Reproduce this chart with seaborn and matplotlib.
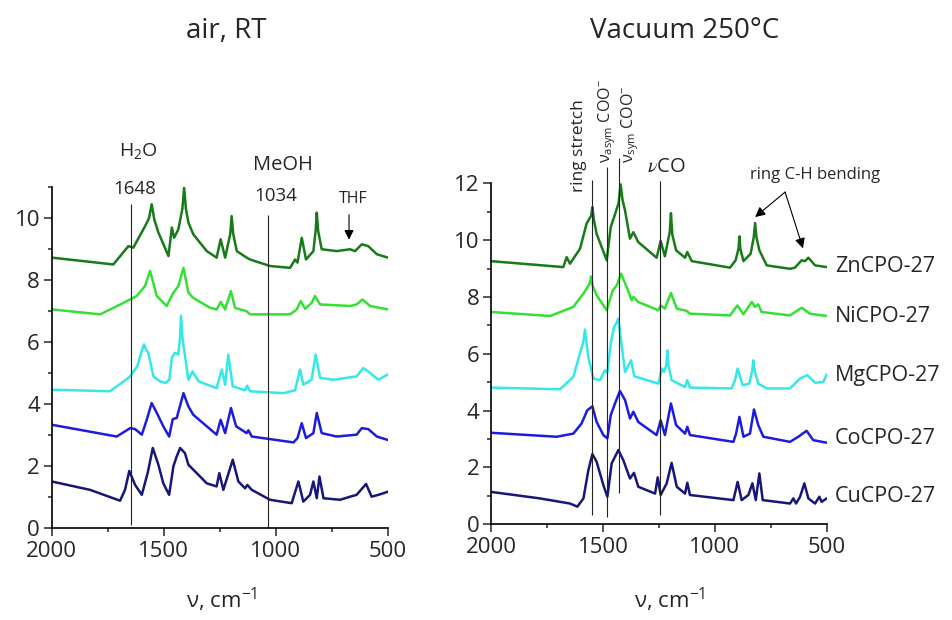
import matplotlib
matplotlib.use("Agg")
import matplotlib.pyplot as plt
from matplotlib.ticker import MultipleLocator, FixedLocator
import pandas as pd
import seaborn as sns

samples = ["ZnCPO-27", "NiCPO-27", "MgCPO-27", "CoCPO-27", "CuCPO-27"]
colors = ["#187a18", "#35e035", "#35e8e8", "#1c1ce0", "#16167c"]

# ---- IR spectra in air at room temperature (wavenumber cm-1, absorbance + offset)
air_zn_wn = [2000, 1725, 1658, 1636, 1583, 1566, 1554, 1542, 1524, 1479, 1464, 1454, 1435, 1417,
             1409, 1401, 1390, 1368, 1308, 1264, 1246, 1226, 1203, 1197, 1190, 1174, 1130, 1115,
             1026, 936, 914, 903, 884, 865, 832, 822, 817, 811, 795, 728, 668, 646, 616, 587, 549, 500]
air_zn_ab = [8.73, 8.51, 9.10, 9.05, 9.75, 10.0, 10.45, 9.95, 9.54, 8.78, 9.70, 9.37, 9.64, 10.3,
             10.99, 10.3, 9.86, 9.48, 8.94, 8.73, 9.32, 8.73, 9.5, 10.07, 9.5, 8.94, 8.73, 8.67,
             8.46, 8.40, 8.67, 8.57, 9.37, 8.67, 8.94, 9.6, 10.18, 9.6, 9.00, 8.94, 9.00, 8.94, 9.16,
             9.10, 8.84, 8.73]

air_ni_wn = [2000, 1784, 1680, 1621, 1584, 1561, 1531, 1487, 1457, 1435, 1412, 1390, 1368, 1293,
             1264, 1246, 1226, 1200, 1182, 1130, 1115, 936, 906, 889, 869, 840, 825, 802, 668,
             639, 613, 579, 500]
air_ni_ab = [7.06, 6.90, 7.27, 7.49, 7.81, 8.30, 7.49, 7.17, 7.60, 7.81, 8.40, 7.60, 7.43, 7.11,
             7.06, 7.30, 7.06, 7.65, 7.11, 7.00, 6.90, 6.90, 7.06, 7.33, 7.08, 7.27, 7.49, 7.22, 7.17,
             7.22, 7.38, 7.17, 7.06]

air_mg_wn = [2000, 1740, 1688, 1650, 1618, 1597, 1588, 1578, 1569, 1546, 1517, 1494, 1475, 1464,
             1450, 1435, 1428, 1423, 1416, 1405, 1390, 1371, 1345, 1264, 1241, 1226, 1212, 1192,
             1137, 1127, 1115, 966, 914, 892, 877, 840, 822, 802, 743, 639, 609, 579, 542, 500]
air_mg_ab = [4.47, 4.42, 4.69, 4.90, 5.23, 5.75, 5.93, 5.75, 5.66, 4.90, 4.74, 4.69, 4.79, 5.50,
             5.66, 5.60, 6.1, 6.86, 6.1, 5.55, 4.79, 5.06, 4.74, 4.52, 5.12, 4.63, 5.60, 4.58,
             4.45, 4.60, 4.42, 4.36, 4.45, 5.12, 4.63, 4.79, 5.60, 4.85, 4.79, 4.90, 5.17, 5.01,
             4.79, 4.96]

air_co_wn = [2000, 1710, 1650, 1628, 1598, 1576, 1554, 1531, 1502, 1476, 1460, 1442, 1412, 1390,
             1368, 1308, 1264, 1246, 1226, 1200, 1177, 1130, 1122, 1107, 921, 903, 884, 865, 832,
             817, 795, 728, 639, 616, 587, 549, 500]
air_co_ab = [3.34, 2.96, 3.23, 3.20, 3.02, 3.50, 4.04, 3.72, 3.29, 2.96, 3.52, 3.56, 4.36, 3.93,
             3.66, 3.29, 3.02, 3.50, 3.07, 3.88, 3.29, 3.07, 3.16, 2.96, 2.77, 2.91, 3.39, 2.91, 3.07,
             3.72, 3.07, 2.96, 3.02, 3.23, 3.20, 2.96, 2.85]

air_cu_wn = [2000, 1829, 1695, 1673, 1654, 1628, 1598, 1572, 1549, 1524, 1502, 1476, 1457, 1442,
             1427, 1405, 1390, 1368, 1308, 1264, 1252, 1234, 1192, 1167, 1137, 1127, 1107, 1026,
             929, 899, 877, 847, 832, 817, 805, 787, 713, 668, 639, 597, 572, 542, 520, 500]
air_cu_ab = [1.51, 1.24, 0.89, 1.24, 1.85, 1.40, 1.08, 1.78, 2.59, 2.05, 1.45, 1.08, 2.00, 2.32,
             2.59, 2.42, 2.05, 1.89, 1.45, 1.35, 1.78, 1.24, 2.21, 1.51, 1.29, 1.40, 1.24, 0.92,
             0.81, 1.51, 0.86, 1.08, 1.51, 0.97, 1.67, 0.97, 0.92, 1.02, 1.08, 1.43, 1.02, 1.08, 1.13, 1.18]

# ---- IR spectra after activation in vacuum at 250 °C
vac_zn_wn = [2000, 1677, 1662, 1647, 1602, 1573, 1553, 1547, 1540, 1528, 1483, 1465, 1450, 1430,
             1421, 1412, 1401, 1379, 1364, 1342, 1260, 1242, 1223, 1201, 1196, 1190, 1173, 1133,
             1123, 1103, 932, 907, 894, 890, 886, 872, 840, 826, 820, 814, 801, 768, 664, 642, 612,
             597, 582, 552, 500]
vac_zn_ab = [9.26, 9.05, 9.40, 9.17, 9.70, 10.58, 10.85, 11.16, 10.70, 10.22, 9.29, 10.46, 10.81, 11.3,
             11.96, 11.4, 11.04, 10.05, 10.28, 9.93, 9.38, 9.97, 9.43, 10.3, 10.95, 10.2, 9.64, 9.38,
             9.58, 9.26, 9.03, 9.29, 9.7, 10.13, 9.7, 9.26, 9.52, 10.1, 10.60, 10.1, 9.64, 9.11, 8.99,
             9.03, 9.29, 9.26, 9.38, 9.11, 9.05]

vac_ni_wn = [2000, 1736, 1632, 1587, 1560, 1553, 1546, 1528, 1483, 1456, 1438, 1419, 1394, 1371,
             1364, 1342, 1252, 1242, 1223, 1196, 1170, 1126, 1111, 932, 899, 872, 835, 820, 806,
             791, 664, 612, 575, 500]
vac_ni_ab = [7.47, 7.33, 7.65, 8.12, 8.45, 8.72, 8.40, 8.06, 7.53, 8.23, 8.41, 8.82, 8.35, 7.88,
             8.00, 7.82, 7.53, 7.70, 7.59, 8.14, 7.59, 7.51, 7.41, 7.35, 7.70, 7.39, 7.82, 7.65, 7.74,
             7.47, 7.35, 7.62, 7.41, 7.33]

vac_mg_wn = [2000, 1692, 1632, 1605, 1588, 1580, 1572, 1565, 1543, 1513, 1491, 1480, 1465, 1450,
             1441, 1431, 1421, 1401, 1374, 1360, 1252, 1237, 1227, 1217, 1212, 1207, 1193, 1133,
             1123, 1111, 925, 910, 898, 875, 846, 833, 828, 822, 806, 768, 664, 619, 587, 552, 515, 500]
vac_mg_ab = [4.81, 4.75, 5.19, 5.95, 6.40, 6.85, 6.30, 5.89, 5.13, 5.07, 5.42, 5.33, 6.36, 6.94,
             7.06, 7.24, 6.59, 5.36, 5.77, 5.21, 4.95, 5.48, 5.36, 5.6, 6.12, 5.6, 5.07, 4.83,
             5.07, 4.81, 4.78, 5.07, 5.48, 4.89, 4.95, 5.4, 5.77, 5.4, 4.95, 4.78, 4.78, 5.13, 5.25,
             4.98, 5.01, 5.28]

vac_co_wn = [2000, 1707, 1632, 1595, 1570, 1547, 1528, 1498, 1480, 1465, 1446, 1424, 1401, 1379,
             1364, 1342, 1260, 1242, 1223, 1196, 1173, 1133, 1123, 1111, 917, 905, 890, 872, 843,
             825, 806, 783, 664, 627, 590, 560, 500]
vac_co_ab = [3.22, 3.08, 3.19, 3.55, 4.01, 4.15, 3.60, 3.14, 3.02, 3.84, 4.25, 4.69, 4.37, 3.72,
             3.96, 3.60, 3.14, 3.66, 3.14, 4.25, 3.49, 3.19, 3.43, 3.14, 2.90, 3.19, 3.78, 3.08, 3.19,
             4.04, 3.49, 3.08, 2.90, 3.08, 3.29, 2.96, 2.87]

vac_cu_wn = [2000, 1781, 1647, 1614, 1587, 1565, 1547, 1528, 1498, 1480, 1461, 1431, 1409, 1379,
             1361, 1342, 1267, 1255, 1242, 1215, 1193, 1170, 1133, 1123, 1111, 917, 898, 880, 850,
             832, 817, 801, 786, 724, 664, 649, 637, 619, 600, 582, 552, 533, 523, 500]
vac_cu_ab = [1.14, 0.91, 0.73, 0.62, 0.91, 1.90, 2.47, 2.20, 1.38, 0.97, 2.14, 2.61, 2.26, 1.61,
             1.81, 1.32, 1.08, 1.65, 1.03, 1.44, 2.16, 1.32, 1.08, 1.46, 1.03, 0.85, 1.49, 0.85, 1.03,
             1.44, 0.85, 1.79, 0.85, 0.79, 0.73, 0.91, 0.73, 0.97, 1.44, 0.91, 0.73, 0.97, 0.79, 0.91]

# band markers
air_band_wn = [1648, 1034]
air_band_lo = [0.1, 0.0]
air_band_hi = [10.45, 10.1]
vac_band_wn = [1547, 1480, 1427, 1245]
vac_band_lo = [0.33, 0.27, 1.1, 0.33]
vac_band_hi = [12.1, 12.56, 12.9, 12.08]

# sample name anchors (right panel, at the 500 cm-1 end)
name_y = [9.07, 7.32, 5.25, 3.03, 0.96]


def long_frame(pairs):
    rows = []
    for name, (wn, ab) in zip(samples, pairs):
        for w, a in zip(wn, ab):
            rows.append({"sample": name, "wn": w, "ab": a})
    return pd.DataFrame(rows)


air_df = long_frame([(air_zn_wn, air_zn_ab), (air_ni_wn, air_ni_ab), (air_mg_wn, air_mg_ab),
                     (air_co_wn, air_co_ab), (air_cu_wn, air_cu_ab)])
vac_df = long_frame([(vac_zn_wn, vac_zn_ab), (vac_ni_wn, vac_ni_ab), (vac_mg_wn, vac_mg_ab),
                     (vac_co_wn, vac_co_ab), (vac_cu_wn, vac_cu_ab)])

sns.set_style("ticks")
plt.rcParams["font.family"] = ["Open Sans", "DejaVu Sans"]
plt.rcParams["mathtext.fontset"] = "custom"
plt.rcParams["mathtext.rm"] = "Open Sans"
plt.rcParams["mathtext.it"] = "Open Sans:italic"
plt.rcParams["mathtext.bf"] = "Open Sans:bold"

fig = plt.figure(figsize=(9.53, 6.2), dpi=100)
ax1 = fig.add_axes([0.0543, 0.1479, 0.3526, 0.5501])
ax2 = fig.add_axes([0.5152, 0.1544, 0.3523, 0.5500])

for ax, df in ((ax1, air_df), (ax2, vac_df)):
    sns.lineplot(data=df, x="wn", y="ab", hue="sample", hue_order=samples, palette=colors,
                 estimator=None, legend=False, linewidth=1.8, ax=ax)
    for ln in ax.get_lines():
        ln.set_solid_joinstyle("round")
    ax.set_xlim(2000, 500)
    ax.xaxis.set_major_locator(FixedLocator([2000, 1500, 1000, 500]))
    ax.xaxis.set_minor_locator(MultipleLocator(250))
    ax.yaxis.set_major_locator(MultipleLocator(2))
    ax.yaxis.set_minor_locator(MultipleLocator(1))
    ax.tick_params(which="major", length=5.5, width=1.1, labelsize=16)
    ax.tick_params(axis="x", which="major", pad=4)
    ax.tick_params(axis="y", which="major", pad=3)
    ax.tick_params(which="minor", length=3, width=1.1)
    for s in ("left", "bottom"):
        ax.spines[s].set_linewidth(1.2)
        ax.spines[s].set_color("black")
    sns.despine(ax=ax)
    ax.set_ylabel("")
    ax.set_xlabel("ν, cm$^{-1}$", fontsize=16)

ax1.set_ylim(0, 11)
ax2.set_ylim(0, 12)
ax1.xaxis.set_label_coords(0.507, -0.168)
ax2.xaxis.set_label_coords(0.533, -0.180)

ax1.vlines(air_band_wn, air_band_lo, air_band_hi, colors="#222222", linewidth=0.8, clip_on=False)
ax2.vlines(vac_band_wn, vac_band_lo, vac_band_hi, colors="#222222", linewidth=0.8, clip_on=False)

# panel titles
fig.text(0.2377, 0.9387, "air, RT", ha="center", va="baseline", fontsize=20)
fig.text(0.7188, 0.9387, "Vacuum 250°C", ha="center", va="baseline", fontsize=20)

# left panel annotations
ax1.text(1615, 12.17, "H$_2$O", ha="center", va="center", fontsize=14)
ax1.text(1628, 10.94, "1648", ha="center", va="center", fontsize=13.5)
ax1.text(967, 11.71, "MeOH", ha="center", va="center", fontsize=14.5)
ax1.text(998, 10.72, "1034", ha="center", va="center", fontsize=13.5)
ax1.text(655, 10.62, "THF", ha="center", va="center", fontsize=11.5)
ax1.annotate("", xy=(673, 9.22), xytext=(673, 10.2),
             arrowprops=dict(arrowstyle="-|>", color="black", lw=0.8, mutation_scale=14))

# right panel annotations
ax2.text(1607, 11.68, "ring stretch", rotation=90, ha="center", va="bottom", fontsize=12.5)
ax2.text(1482, 12.73, r"ν$_{\mathrm{asym}}$ COO$^{-}$", rotation=90, ha="center", va="bottom",
         fontsize=11.5)
ax2.text(1379, 12.73, r"ν$_{\mathrm{sym}}$ COO$^{-}$", rotation=90, ha="center", va="bottom",
         fontsize=11.5)
ax2.text(1218, 12.58, r"$\nu$CO", ha="center", va="center", fontsize=14.5, math_fontfamily="stix")
ax2.text(552, 12.30, "ring C-H bending", ha="center", va="center", fontsize=12)
for tip in ((820, 10.81), (606, 9.71)):
    ax2.annotate("", xy=tip, xytext=(686, 11.69),
                 arrowprops=dict(arrowstyle="-|>", color="black", lw=0.8, mutation_scale=15,
                                 shrinkA=0, shrinkB=0))

for name, y in zip(samples, name_y):
    ax2.text(463, y, name, ha="left", va="center", fontsize=15.5, clip_on=False)

fig.savefig("out.png", dpi=100)
